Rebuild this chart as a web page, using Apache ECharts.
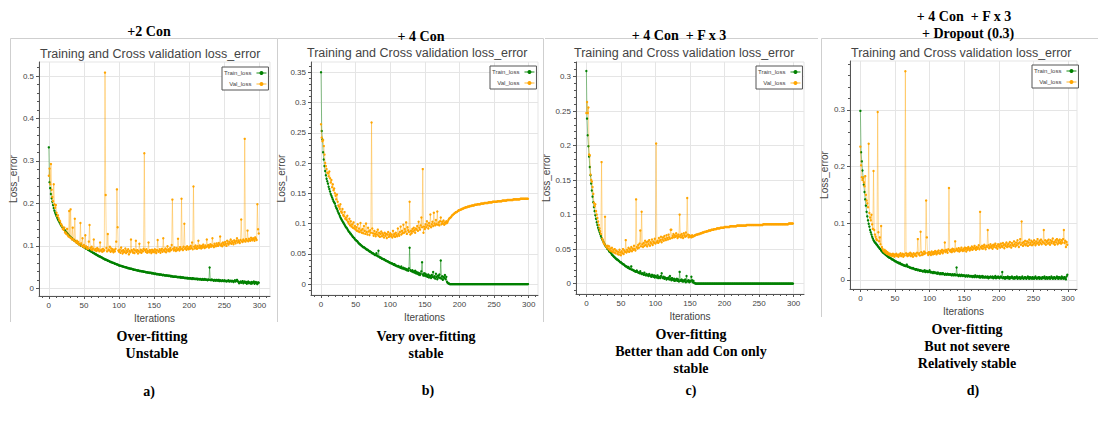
<!DOCTYPE html>
<html><head><meta charset="utf-8">
<script src="https://cdn.jsdelivr.net/npm/echarts@6/dist/echarts.min.js"></script>
<style>html,body{margin:0;padding:0;background:#fff;}#c{width:1098px;height:442px;}</style>
</head><body><div id="c"></div>
<script>
// ---------- data ----------
const xTickLabels = [0,50,100,150,200,250,300];
const yTicksA = [0,0.1,0.2,0.3,0.4,0.5];
const yTicksB = [0,0.05,0.1,0.15,0.2,0.25,0.3,0.35];
const yTicksC = [0,0.05,0.1,0.15,0.2,0.25,0.3];
const yTicksD = [0,0.1,0.2,0.3];

const trainA = [
.332,.250,.236,.222,.212,.204,.196,.189,.183,.178,
.174,.170,.166,.162,.159,.156,.153,.150,.147,.145,
.142,.140,.138,.136,.134,.132,.130,.128,.126,.124,
.122,.121,.119,.118,.116,.115,.113,.112,.111,.109,
.108,.107,.106,.104,.103,.102,.101,.100,.099,.098,
.097,.096,.095,.094,.093,.092,.091,.090,.089,.088,
.087,.086,.085,.084,.083,.082,.081,.080,.079,.078,
.077,.076,.075,.075,.074,.073,.072,.071,.070,.069,
.068,.068,.067,.066,.065,.065,.064,.063,.062,.062,
.061,.060,.060,.059,.058,.058,.057,.056,.056,.055,
.054,.054,.053,.053,.052,.052,.051,.051,.050,.050,
.049,.049,.048,.048,.047,.047,.046,.046,.046,.045,
.045,.044,.044,.044,.043,.043,.042,.042,.042,.041,
.041,.041,.040,.040,.040,.039,.039,.039,.038,.038,
.038,.037,.037,.037,.036,.037,.036,.035,.036,.035,
.035,.034,.035,.034,.033,.034,.033,.033,.032,.033,
.032,.032,.031,.032,.031,.031,.030,.031,.030,.030,
.030,.029,.030,.029,.028,.029,.028,.028,.027,.028,
.027,.028,.027,.026,.027,.026,.026,.027,.025,.026,
.025,.026,.025,.025,.024,.025,.024,.025,.023,.024,
.024,.023,.024,.023,.022,.024,.023,.022,.023,.022,
.022,.023,.021,.022,.022,.021,.022,.021,.020,.022,
.021,.020,.022,.021,.020,.021,.019,.021,.020,.049,
.020,.019,.021,.020,.019,.018,.020,.019,.018,.020,
.019,.018,.020,.017,.019,.018,.017,.019,.018,.017,
.019,.017,.018,.016,.018,.017,.019,.016,.017,.018,
.016,.018,.017,.015,.017,.019,.016,.018,.020,.017,
.015,.012,.014,.016,.013,.015,.017,.012,.014,.016,
.013,.015,.011,.014,.016,.012,.014,.013,.011,.015,
.012,.014,.016,.011,.013,.015,.012,.010,.014,.013];

const valA = [
.265,.282,.245,.293,.232,.215,.205,.245,.198,.190,
.196,.178,.170,.172,.165,.160,.158,.152,.150,.146,
.140,.138,.143,.132,.130,.128,.140,.125,.122,.182,
.120,.186,.118,.115,.143,.116,.112,.164,.110,.108,
.112,.106,.109,.104,.102,.154,.106,.100,.118,.098,
.102,.096,.125,.099,.094,.097,.093,.110,.149,.095,
.092,.098,.090,.094,.115,.091,.089,.093,.088,.095,
.090,.092,.087,.108,.089,.091,.086,.093,.088,.090,
.508,.220,.095,.087,.128,.091,.089,.098,.086,.094,
.088,.092,.085,.090,.087,.093,.110,.233,.144,.089,
.086,.091,.084,.096,.088,.082,.090,.085,.087,.094,
.083,.089,.086,.092,.080,.088,.085,.115,.090,.087,
.084,.092,.083,.089,.112,.086,.090,.082,.088,.105,
.085,.091,.084,.089,.087,.093,.318,.090,.086,.092,
.084,.088,.108,.085,.090,.087,.083,.091,.086,.089,
.085,.092,.087,.083,.090,.114,.086,.088,.092,.084,
.089,.093,.086,.118,.090,.087,.094,.085,.091,.099,
.088,.092,.087,.095,.090,.102,.209,.093,.089,.096,
.091,.088,.095,.090,.117,.093,.089,.097,.092,.211,
.094,.090,.098,.152,.093,.096,.091,.099,.094,.092,
.097,.093,.100,.095,.108,.092,.240,.098,.094,.101,
.096,.093,.099,.112,.095,.101,.097,.094,.100,.096,
.103,.098,.095,.101,.097,.115,.099,.102,.096,.100,
.104,.098,.102,.118,.100,.097,.105,.101,.099,.106,
.102,.100,.107,.103,.122,.101,.105,.099,.108,.104,
.102,.109,.105,.100,.112,.106,.103,.110,.107,.115,
.105,.111,.108,.104,.113,.109,.106,.112,.118,.108,
.113,.110,.107,.114,.162,.111,.109,.115,.112,.352,
.110,.116,.113,.136,.111,.117,.114,.112,.119,.115,
.113,.118,.116,.112,.120,.117,.114,.198,.139,.129];

const trainB = [
.350,.253,.239,.218,.206,.195,.187,.180,.174,.170,
.166,.161,.157,.153,.149,.146,.143,.140,.137,.135,
.133,.129,.126,.124,.121,.118,.116,.113,.110,.108,
.106,.104,.102,.100,.098,.096,.094,.093,.091,.089,
.087,.086,.084,.083,.081,.080,.078,.077,.076,.074,
.073,.072,.071,.070,.068,.067,.066,.065,.064,.063,
.062,.061,.061,.060,.059,.058,.057,.057,.056,.055,
.054,.054,.053,.052,.051,.051,.050,.049,.048,.048,
.051,.047,.046,.055,.045,.044,.044,.043,.042,.042,
.041,.041,.040,.039,.039,.038,.038,.037,.036,.036,
.035,.035,.034,.034,.033,.032,.033,.031,.031,.030,
.030,.029,.030,.028,.028,.027,.029,.026,.026,.027,
.025,.026,.024,.025,.023,.024,.022,.026,.060,.023,
.022,.021,.023,.020,.021,.019,.022,.018,.020,.017,
.019,.016,.018,.015,.017,.021,.036,.016,.014,.018,
.014,.017,.013,.015,.012,.016,.011,.014,.013,.010,
.015,.012,.020,.011,.013,.009,.017,.012,.008,.014,
.011,.016,.010,.039,.009,.013,.007,.012,.010,.015,
.008,.012,.004,.002,.001,.001,0,0,0,0,
0,0,0,0,0,0,0,0,0,0,
0,0,0,0,0,0,0,0,0,0,
0,0,0,0,0,0,0,0,0,0,
0,0,0,0,0,0,0,0,0,0,
0,0,0,0,0,0,0,0,0,0,
0,0,0,0,0,0,0,0,0,0,
0,0,0,0,0,0,0,0,0,0,
0,0,0,0,0,0,0,0,0,0,
0,0,0,0,0,0,0,0,0,0,
0,0,0,0,0,0,0,0,0,0,
0,0,0,0,0,0,0,0,0,0];

const valB = [
.264,.242,.236,.238,.228,.214,.200,.195,.190,.184,
.183,.178,.186,.175,.168,.172,.160,.165,.155,.158,
.150,.146,.140,.148,.136,.130,.128,.124,.132,.120,
.118,.124,.114,.112,.119,.108,.110,.106,.113,.103,
.100,.108,.097,.104,.095,.099,.093,.102,.092,.096,
.090,.094,.088,.099,.087,.092,.086,.101,.089,.085,
.091,.084,.096,.088,.083,.100,.086,.082,.093,.087,
.081,.089,.085,.267,.092,.084,.080,.088,.083,.079,
.086,.082,.090,.080,.085,.078,.083,.087,.079,.084,
.081,.077,.085,.080,.083,.076,.082,.086,.078,.081,
.084,.079,.082,.077,.088,.080,.083,.078,.085,.081,
.079,.092,.083,.080,.086,.095,.082,.088,.084,.098,
.085,.091,.087,.102,.083,.094,.089,.086,.136,.082,
.088,.084,.091,.087,.093,.089,.085,.092,.090,.096,
.088,.103,.093,.090,.097,.110,.094,.190,.085,.095,
.091,.099,.094,.104,.097,.092,.101,.096,.115,.094,
.099,.103,.096,.118,.100,.097,.106,.099,.120,.098,
.102,.097,.104,.110,.099,.103,.100,.105,.098,.102,
.100,.104,.101,.103,.106,.108,.109,.110,.111,.113,
.114,.115,.116,.117,.118,.119,.119,.120,.121,.122,
.122,.123,.123,.124,.124,.125,.125,.126,.126,.127,
.127,.127,.128,.128,.128,.129,.129,.129,.130,.130,
.130,.130,.131,.131,.131,.131,.132,.132,.132,.132,
.132,.133,.133,.133,.133,.133,.134,.134,.134,.134,
.134,.134,.135,.135,.135,.135,.135,.135,.136,.136,
.136,.136,.136,.136,.136,.137,.137,.137,.137,.137,
.137,.137,.138,.138,.138,.138,.138,.138,.138,.139,
.139,.139,.139,.139,.139,.139,.139,.139,.140,.140,
.140,.140,.140,.140,.140,.140,.140,.140,.141,.141,
.141,.141,.141,.141,.141,.141,.141,.141,.141,.141];

const trainC = [
.308,.239,.215,.199,.184,.169,.157,.145,.135,.126,
.118,.111,.105,.099,.094,.089,.085,.081,.078,.075,
.072,.069,.066,.064,.062,.060,.058,.056,.054,.053,
.051,.050,.049,.047,.046,.045,.044,.042,.041,.040,
.039,.038,.037,.036,.035,.035,.034,.033,.032,.031,
.031,.030,.029,.028,.028,.027,.026,.025,.025,.024,
.023,.024,.022,.022,.021,.025,.020,.020,.019,.019,
.018,.018,.017,.019,.017,.016,.016,.015,.018,.015,
.014,.015,.014,.013,.016,.013,.012,.014,.012,.013,
.011,.014,.012,.011,.010,.013,.011,.010,.012,.009,
.011,.010,.009,.012,.008,.010,.009,.008,.011,.015,
.009,.008,.010,.007,.009,.008,.006,.008,.007,.009,
.006,.011,.007,.005,.008,.006,.005,.007,.004,.006,
.005,.007,.004,.006,.003,.017,.005,.004,.006,.003,
.005,.003,.004,.006,.002,.011,.004,.003,.005,.002,
.004,.003,.010,.005,.002,.004,.001,.001,0,0,
0,0,0,0,0,0,0,0,0,0,
0,0,0,0,0,0,0,0,0,0,
0,0,0,0,0,0,0,0,0,0,
0,0,0,0,0,0,0,0,0,0,
0,0,0,0,0,0,0,0,0,0,
0,0,0,0,0,0,0,0,0,0,
0,0,0,0,0,0,0,0,0,0,
0,0,0,0,0,0,0,0,0,0,
0,0,0,0,0,0,0,0,0,0,
0,0,0,0,0,0,0,0,0,0,
0,0,0,0,0,0,0,0,0,0,
0,0,0,0,0,0,0,0,0,0,
0,0,0,0,0,0,0,0,0,0,
0,0,0,0,0,0,0,0,0,0];

const valC = [
.247,.263,.247,.255,.187,.186,.158,.150,.148,.140,
.130,.117,.112,.115,.105,.100,.095,.090,.085,.080,
.076,.072,.176,.065,.062,.059,.057,.097,.055,.053,
.052,.055,.050,.054,.048,.051,.047,.052,.046,.049,
.045,.050,.044,.048,.047,.043,.046,.042,.049,.045,
.041,.047,.044,.050,.043,.048,.046,.063,.045,.049,
.047,.052,.046,.050,.048,.053,.047,.051,.049,.055,
.050,.048,.122,.053,.051,.056,.052,.058,.077,.054,
.104,.057,.053,.059,.055,.062,.056,.060,.054,.061,
.057,.063,.055,.060,.058,.064,.056,.061,.059,.065,
.058,.203,.060,.062,.059,.066,.061,.063,.068,.060,
.064,.067,.062,.069,.065,.063,.070,.066,.064,.071,
.067,.065,.078,.078,.066,.069,.072,.067,.070,.068,
.073,.069,.066,.071,.068,.100,.070,.067,.072,.069,
.066,.073,.070,.068,.074,.069,.124,.071,.067,.070,
.068,.069,.067,.070,.068,.069,.069,.070,.070,.071,
.071,.071,.072,.072,.072,.073,.073,.073,.074,.074,
.074,.075,.075,.075,.076,.076,.076,.077,.077,.077,
.077,.078,.078,.078,.078,.079,.079,.079,.079,.080,
.080,.080,.080,.080,.081,.081,.081,.081,.081,.081,
.082,.082,.082,.082,.082,.082,.082,.082,.083,.083,
.083,.083,.083,.083,.083,.083,.083,.083,.084,.084,
.084,.084,.084,.084,.084,.084,.084,.084,.084,.084,
.084,.084,.085,.085,.085,.085,.085,.085,.085,.085,
.085,.085,.085,.085,.085,.085,.085,.085,.085,.085,
.085,.085,.085,.085,.085,.085,.086,.086,.086,.086,
.086,.086,.086,.086,.086,.086,.086,.086,.086,.086,
.086,.086,.086,.086,.086,.086,.086,.086,.086,.086,
.086,.086,.086,.086,.086,.086,.086,.086,.086,.086,
.086,.086,.086,.087,.087,.087,.087,.087,.087,.087];

const trainD = [
.298,.225,.209,.193,.180,.168,.155,.142,.131,.120,
.112,.105,.099,.094,.088,.084,.080,.076,.073,.070,
.068,.066,.065,.063,.062,.060,.058,.057,.055,.054,
.052,.051,.049,.048,.047,.046,.045,.044,.043,.042,
.041,.040,.039,.039,.038,.037,.036,.036,.035,.034,
.033,.033,.032,.031,.031,.030,.029,.030,.028,.028,
.027,.027,.026,.026,.025,.025,.024,.027,.024,.023,
.023,.022,.022,.021,.021,.020,.021,.020,.019,.019,
.018,.019,.018,.017,.018,.017,.016,.017,.016,.016,
.015,.016,.015,.017,.014,.015,.016,.014,.015,.014,
.017,.014,.013,.014,.013,.012,.014,.013,.012,.013,
.012,.011,.013,.012,.011,.010,.012,.011,.010,.012,
.011,.010,.009,.011,.010,.009,.011,.010,.009,.010,
.010,.009,.008,.010,.009,.008,.010,.009,.008,.022,
.009,.008,.007,.009,.008,.007,.009,.008,.007,.008,
.008,.007,.006,.008,.007,.006,.008,.007,.006,.007,
.006,.007,.005,.007,.006,.005,.008,.006,.005,.007,
.006,.005,.007,.004,.006,.005,.007,.004,.006,.005,
.004,.006,.005,.004,.006,.003,.005,.004,.006,.005,
.004,.006,.003,.005,.004,.007,.003,.005,.004,.006,
.004,.003,.005,.006,.004,.014,.003,.005,.004,.002,
.005,.004,.003,.006,.004,.002,.005,.003,.004,.006,
.003,.004,.002,.005,.003,.004,.006,.002,.004,.003,
.005,.002,.004,.003,.006,.003,.002,.004,.005,.003,
.002,.004,.006,.003,.002,.005,.003,.004,.002,.005,
.003,.002,.004,.006,.003,.002,.004,.003,.005,.002,
.004,.003,.002,.005,.003,.004,.006,.002,.003,.005,
.002,.004,.003,.005,.002,.003,.006,.004,.002,.003,
.005,.003,.002,.004,.006,.003,.002,.005,.003,.004,
.002,.006,.003,.004,.002,.005,.003,.001,.006,.009];

const valD = [
.235,.202,.181,.176,.180,.172,.165,.183,.150,.140,
.135,.128,.240,.118,.110,.105,.115,.098,.090,.192,
.088,.080,.076,.072,.070,.296,.084,.068,.075,.063,
.095,.058,.055,.052,.050,.053,.048,.051,.046,.049,
.045,.047,.044,.046,.043,.045,.042,.046,.044,.041,
.045,.043,.046,.042,.044,.041,.045,.043,.047,.042,
.044,.046,.041,.045,.043,.368,.047,.044,.042,.046,
.043,.045,.048,.042,.046,.044,.041,.047,.045,.043,
.046,.042,.048,.072,.045,.047,.043,.085,.049,.044,
.047,.045,.050,.046,.048,.140,.075,.047,.044,.049,
.046,.048,.044,.050,.047,.045,.049,.046,.051,.048,
.045,.050,.047,.052,.048,.046,.051,.049,.053,.047,
.050,.052,.066,.049,.053,.051,.048,.054,.162,.052,
.050,.053,.049,.055,.051,.054,.050,.068,.052,.055,
.053,.051,.056,.050,.054,.052,.057,.053,.051,.055,
.052,.057,.054,.050,.056,.053,.058,.055,.052,.056,
.054,.059,.053,.057,.055,.060,.056,.053,.058,.055,
.057,.061,.054,.120,.058,.056,.060,.055,.059,.062,
.057,.054,.060,.058,.088,.061,.056,.059,.063,.057,
.060,.055,.062,.058,.061,.064,.057,.060,.055,.063,
.059,.062,.057,.064,.060,.058,.065,.061,.056,.063,
.060,.066,.058,.062,.064,.059,.067,.061,.057,.065,
.062,.060,.068,.063,.059,.066,.061,.070,.064,.058,
.066,.072,.062,.103,.065,.060,.067,.063,.069,.061,
.064,.068,.060,.066,.071,.062,.065,.069,.061,.067,
.063,.070,.065,.061,.068,.064,.072,.066,.062,.069,
.065,.071,.063,.068,.066,.088,.064,.070,.062,.067,
.069,.064,.071,.066,.062,.070,.065,.068,.073,.064,
.067,.062,.070,.066,.072,.063,.069,.065,.071,.067,
.064,.070,.066,.072,.088,.065,.069,.058,.067,.062];

const headings = [
  ['+2 Con'], ['+ 4 Con'], ['+ 4 Con\u00a0 + F x 3'], ['+ 4 Con\u00a0 + F x 3', '+ Dropout (0.3)']
];
const captions = [
  ['Over-fitting', 'Unstable'],
  ['Very over-fitting', 'stable'],
  ['Over-fitting', 'Better than add Con only', 'stable'],
  ['Over-fitting', 'But not severe', 'Relatively stable']
];
const letters = ['a)', 'b)', 'c)', 'd)'];
const chartTitle = 'Training and Cross validation loss_error';

// ---------- layout ----------
const layout = [
  {grid:{left:39,top:62,width:231,height:234}, xr:[-14,315], yr:[-0.018,0.533], step:0.1, yTicks:yTicksA, leg:[222,67], yGap:21, tpos:[40,54],
   head:[[149,31]], cap:[[152,336],[152,353]], let:[149,391]},
  {grid:{left:311,top:62,width:227,height:233}, xr:[-14.5,313.5], yr:[-0.018,0.367], step:0.05, yTicks:yTicksB, leg:[490,66], yGap:25, tpos:[307,53],
   head:[[421,36]], cap:[[426,336],[426,353]], let:[428,390]},
  {grid:{left:576,top:62,width:228,height:232}, xr:[-15,315], yr:[-0.015,0.321], step:0.05, yTicks:yTicksC, leg:[756,66], yGap:24, tpos:[574,53],
   head:[[679,35]], cap:[[691,334],[691,351],[691,368]], let:[691,390]},
  {grid:{left:850,top:61,width:227,height:228}, xr:[-15,313], yr:[-0.016,0.386], step:0.1, yTicks:yTicksD, leg:[1032,65], yGap:20, tpos:[851,53],
   head:[[964,16],[968,33]], cap:[[967,329],[967,346],[967,363]], let:[973,390]}
];
const trains = [trainA, trainB, trainC, trainD];
const vals = [valA, valB, valC, valD];

const GREEN = '#008000', ORANGE = '#FFA500';
const SANS = '"Liberation Sans", Arial, sans-serif';
const SERIF = '"Liberation Serif", "Times New Roman", serif';

const grids = [], xAxes = [], yAxes = [], series = [], legends = [], graphics = [];
layout.forEach((L, i) => {
  grids.push(Object.assign({show:true, borderColor:'#e5e5e5', borderWidth:1, backgroundColor:'#fff', containLabel:false, outerBoundsMode:'none'}, L.grid));
  xAxes.push({
    type:'value', gridIndex:i, min:L.xr[0], max:L.xr[1], minInterval:50, maxInterval:50,
    name:'Iterations', nameLocation:'middle', nameGap:13,
    nameTextStyle:{fontFamily:SANS, fontSize:10, color:'#444'},
    axisLine:{show:true, onZero:false, lineStyle:{color:'#555', width:1}},
    axisTick:{show:true, length:3, lineStyle:{color:'#555'}, customValues:xTickLabels},
    minorTick:{show:true, splitNumber:5, length:2, lineStyle:{color:'#555'}},
    axisLabel:{fontFamily:SANS, fontSize:8, color:'#444', margin:5, customValues:xTickLabels,
      formatter: v => (Math.abs(v/50 - Math.round(v/50)) < 1e-6 ? String(Math.round(v)) : '')},
    splitLine:{show:true, lineStyle:{color:'#e5e5e5', width:1}},
    minorSplitLine:{show:false}
  });
  const st = L.step;
  yAxes.push({
    type:'value', gridIndex:i, min:L.yr[0], max:L.yr[1], minInterval:st, maxInterval:st,
    name:'Loss_error', nameLocation:'middle', nameGap:L.yGap,
    nameTextStyle:{fontFamily:SANS, fontSize:10, color:'#444'},
    axisLine:{show:true, onZero:false, lineStyle:{color:'#555', width:1}},
    axisTick:{show:true, length:3, lineStyle:{color:'#555'}, customValues:L.yTicks},
    minorTick:{show:true, splitNumber:5, length:2, lineStyle:{color:'#555'}},
    axisLabel:{fontFamily:SANS, fontSize:8, color:'#444', margin:5, customValues:L.yTicks,
      formatter: v => (Math.abs(v/st - Math.round(v/st)) < 1e-6 ? String(+v.toFixed(2)) : '')},
    splitLine:{show:true, lineStyle:{color:'#e5e5e5', width:1}}
  });
  const mk = (arr) => arr.map((v, k) => [k, v]);
  series.push({
    type:'line', name:'Train_loss', xAxisIndex:i, yAxisIndex:i, data:mk(trains[i]),
    symbol:'circle', symbolSize:2.4, showSymbol:true, showAllSymbol:true,
    itemStyle:{color:GREEN}, lineStyle:{color:GREEN, width:1, opacity:0.45},
    emphasis:{disabled:true}, z:2
  });
  series.push({
    type:'line', name:'Val_loss', xAxisIndex:i, yAxisIndex:i, data:mk(vals[i]),
    symbol:'circle', symbolSize:2.4, showSymbol:true, showAllSymbol:true,
    itemStyle:{color:ORANGE}, lineStyle:{color:ORANGE, width:1, opacity:0.4},
    emphasis:{disabled:true}, z:3
  });
  legends.push({
    orient:'vertical', left:L.leg[0], top:L.leg[1], align:'right',
    data:['Train_loss','Val_loss'], selectedMode:false,
    itemWidth:10, itemHeight:5, itemGap:5, padding:[3,1,3,2],
    borderColor:'#555', borderWidth:1, backgroundColor:'#fff',
    textStyle:{fontFamily:SANS, fontSize:6, color:'#444', width:28}
  });
  graphics.push({type:'text', x:L.tpos[0], y:L.tpos[1], silent:true,
    style:{text:chartTitle, font:'12.5px ' + SANS, fill:'#444', textAlign:'left', verticalAlign:'middle', textVerticalAlign:'middle'}});
  headings[i].forEach((t, k) => graphics.push({type:'text', x:L.head[k][0], y:L.head[k][1], silent:true,
    style:{text:t, font:'bold 14px ' + SERIF, fill:'#000', textAlign:'center', verticalAlign:'middle', textVerticalAlign:'middle'}}));
  captions[i].forEach((t, k) => graphics.push({type:'text', x:L.cap[k][0], y:L.cap[k][1], silent:true,
    style:{text:t, font:'bold 14px ' + SERIF, fill:'#000', textAlign:'center', verticalAlign:'middle', textVerticalAlign:'middle'}}));
  graphics.push({type:'text', x:L.let[0], y:L.let[1], silent:true,
    style:{text:letters[i], font:'bold 14px ' + SERIF, fill:'#000', textAlign:'center', verticalAlign:'middle', textVerticalAlign:'middle'}});
});

// panel frames (screenshot borders)
const FR = '#cfcfcf';
const frameLines = [
  [10.5,38.5,277.5,38.5],[10.5,38.5,10.5,322],[277.5,38.5,277.5,322],
  [277.5,38.5,543.5,38.5],[543.5,38.5,543.5,322],
  [545,38.5,818,38.5],
  [821.5,38.5,1098,38.5],[821.5,38.5,821.5,317]
];
frameLines.forEach(f => graphics.push({type:'line', silent:true, shape:{x1:f[0],y1:f[1],x2:f[2],y2:f[3]}, style:{stroke:FR, lineWidth:1}, z:-1}));

const chart = echarts.init(document.getElementById('c'), null, {renderer:'svg'});
chart.setOption({
  animation:false,
  backgroundColor:'#fff',
  tooltip:{show:false},
  grid:grids, xAxis:xAxes, yAxis:yAxes, series:series, legend:legends, graphic:graphics
});
</script></body></html>
